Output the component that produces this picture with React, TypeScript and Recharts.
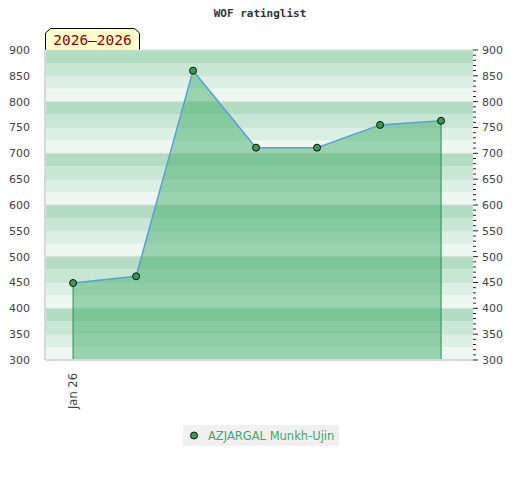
import {
    ComposedChart, Area, Line, XAxis, YAxis, ReferenceArea, ReferenceLine, Legend,
} from 'recharts';

// rating snapshots (first of each month)
const dates = ['2026-01-01', '2026-02-01', '2026-03-01', '2026-04-01', '2026-05-01', '2026-06-01', '2026-07-01'];
const ratings = [449, 462, 860, 711, 711, 755, 763];
const playerName = 'AZJARGAL Munkh-Ujin';
const xTickDates = ['2026-01-01'];
const xTickLabels = ['Jan 26'];
const yTicks = [300, 350, 400, 450, 500, 550, 600, 650, 700, 750, 800, 850, 900];
const yMinorTicks = Array.from({ length: 61 }, (_, i) => 300 + i * 10);

const DAY = 86400000;
const ts = (d: string) => new Date(d + 'T00:00:00Z').getTime();
const data = dates.map((d, i) => ({ t: ts(d), v: ratings[i] }));
const xDomain = [ts(dates[0]) - 13.8 * DAY, ts(dates[dates.length - 1]) + 15.7 * DAY];

const BANDS = ['#eef7f2', '#dcefe4', '#c8e6d4', '#b3ddc3'];
const bands = Array.from({ length: 24 }, (_, i) => 300 + i * 25);

const axisFont = { fontFamily: 'DejaVu Sans', fontSize: 11, fill: '#444' };

const XTick = (props: any) => {
    const { x, payload } = props;
    const idx = xTickDates.findIndex(d => ts(d) === payload.value);
    return (
        <g transform={`translate(${x},373)`}>
            <text transform="rotate(-90)" textAnchor="end" dy="0.35em" {...axisFont} fontSize={11.5}>
                {xTickLabels[idx] ?? ''}
            </text>
        </g>
    );
};

const RightTick = (props: any) => {
    const { y, payload } = props;
    const major = payload.value % 50 === 0;
    return (
        <g>
            <line x1={473} x2={major ? 478 : 476} y1={y} y2={y} stroke="#222" />
            {major && (
                <text x={482} y={y} dy="0.36em" textAnchor="start" {...axisFont}>{payload.value}</text>
            )}
        </g>
    );
};

const LegendBox = () => (
    <div style={{ background: '#f0f0f0', width: 156, height: 21, display: 'flex', alignItems: 'center', whiteSpace: 'nowrap', fontFamily: 'DejaVu Sans', fontSize: 11.5, color: '#3aaa6a' }}>
        <svg width={25} height={21}>
            <circle cx={11} cy={10.5} r={3.5} fill="#3a9a5a" stroke="#111" />
        </svg>
        <span>{playerName}</span>
    </div>
);

export default function App() {
    const first = data[0];
    const last = data[data.length - 1];
    return (
        <div style={{ position: 'relative', width: 520, height: 480 }}>
            <style>{'body{margin:0}'}</style>
            <div style={{ position: 'absolute', top: 7, left: 0, width: 520, textAlign: 'center', fontFamily: 'DejaVu Sans Mono', fontWeight: 'bold', fontSize: 11, color: '#333' }}>
                WOF ratinglist
            </div>
            <svg style={{ position: 'absolute', left: 0, top: 0 }} width={160} height={52}>
                <polygon points="45.5,50.5 45.5,33 50.5,28.5 134.5,28.5 139.5,33 139.5,50.5" fill="#ffffcc" stroke="#000" />
                <text x={92.5} y={45} textAnchor="middle" fontFamily="DejaVu Sans Mono" fontSize={14.5} fill="#8b0000">2026–2026</text>
            </svg>
            <ComposedChart width={520} height={480} data={data} margin={{ top: 50, right: 0, bottom: 0, left: 0 }}>
                <XAxis dataKey="t" type="number" domain={xDomain} ticks={xTickDates.map(ts)} tick={<XTick />}
                    height={120} tickLine={false} axisLine={{ stroke: '#d8d8d8', strokeWidth: 2 }} allowDataOverflow />
                <YAxis yAxisId="l" orientation="left" domain={[300, 900]} ticks={yTicks} width={45} tick={axisFont}
                    tickLine={false} axisLine={{ stroke: '#d8d8d8', strokeWidth: 2 }} tickMargin={9} interval={0} />
                <YAxis yAxisId="r" orientation="right" domain={[300, 900]} ticks={yMinorTicks} width={47}
                    tick={<RightTick />} tickLine={false} axisLine={false} interval={0} />
                {bands.map(b => (
                    <ReferenceArea key={b} yAxisId="l" y1={b} y2={b + 25} fill={BANDS[(b % 100) / 25]} fillOpacity={1}
                        stroke="none" zIndex={-100} />
                ))}
                {yTicks.map(t => (
                    <ReferenceLine key={t} yAxisId="l" y={t} stroke="#dcdcdc" strokeWidth={1} zIndex={-50} />
                ))}
                <Area yAxisId="l" type="linear" dataKey="v" stroke="#5b9fd8" strokeWidth={1.5}
                    fill="rgb(60,170,100)" fillOpacity={0.47} isAnimationActive={false}
                    dot={{ r: 3.5, fill: '#3a9a5a', stroke: '#111', strokeWidth: 1, fillOpacity: 1 }} activeDot={false} />
                {/* keeps the right-hand scale alive, draws nothing */}
                <Line yAxisId="r" type="linear" dataKey="v" stroke="none" dot={false} activeDot={false} isAnimationActive={false} legendType="none" />
                <ReferenceLine yAxisId="l" segment={[{ x: first.t, y: 300 }, { x: first.t, y: first.v }]} stroke="#2e8b57" zIndex={400} />
                <ReferenceLine yAxisId="l" segment={[{ x: last.t, y: 300 }, { x: last.t, y: last.v }]} stroke="#2e8b57" zIndex={400} />
                <Legend layout="horizontal" verticalAlign="middle" align="center" content={<LegendBox />}
                    wrapperStyle={{ top: 425, left: 183, width: 156, height: 21 }} />
            </ComposedChart>
        </div>
    );
}
